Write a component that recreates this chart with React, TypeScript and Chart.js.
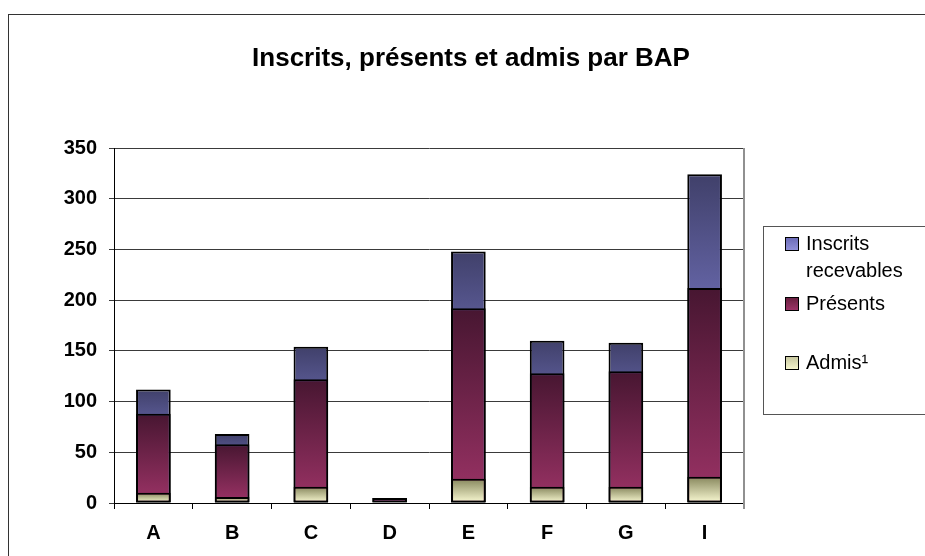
import React, { useEffect, useRef } from "react";
import { Chart, registerables } from "chart.js";

Chart.register(...registerables);

const categories = ["A", "B", "C", "D", "E", "F", "G", "I"];
const inscrits = [112, 68, 154, 5, 248, 160, 158, 324];
const presents = [88, 58, 122, 5, 192, 128, 130, 212];
const admis = [10, 6, 16, 0, 24, 16, 16, 26];
const yTicks = [0, 50, 100, 150, 200, 250, 300, 350];

const FONT = "'Liberation Sans', Arial, sans-serif";

const inscritsStops: [number, string][] = [[0, "#40406a"], [0.35, "#6262a2"], [1, "#9a9aee"]];
const presentsStops: [number, string][] = [[0, "#471631"], [1, "#9c3366"]];
const admisStops: [number, string][] = [[0, "#86865c"], [1, "#fbfbd4"]];

function gradientFill(stops: [number, string][]) {
  return (ctx: any) => {
    const chart = ctx.chart;
    const { chartArea, scales } = chart;
    if (!chartArea || ctx.type !== "data" || !scales.y) return stops[stops.length - 1][1];
    const v = ctx.parsed ? ctx.parsed.y : ctx.raw;
    const top = scales.y.getPixelForValue(v);
    const bottom = scales.y.getPixelForValue(0);
    if (!isFinite(top) || bottom - top < 1) return stops[stops.length - 1][1];
    const g = chart.ctx.createLinearGradient(0, top, 0, bottom);
    stops.forEach(([o, c]) => g.addColorStop(o, c));
    return g;
  };
}

const plotBorder = {
  id: "plotBorder",
  afterDraw(chart: any) {
    const { ctx, chartArea } = chart;
    ctx.save();
    ctx.strokeStyle = "#909090";
    ctx.lineWidth = 2;
    ctx.beginPath();
    ctx.moveTo(chartArea.right, chartArea.top);
    ctx.lineTo(chartArea.right, chartArea.bottom + 6);
    ctx.stroke();
    ctx.restore();
  },
};

export default function App() {
  const ref = useRef<HTMLCanvasElement>(null);
  useEffect(() => {
    if (!ref.current) return;
    const common = {
      grouped: false,
      barPercentage: 0.44,
      categoryPercentage: 1,
      borderColor: "#000",
      borderWidth: 2,
      borderSkipped: false,
    };
    const chart = new Chart(ref.current, {
      type: "bar",
      data: {
        labels: categories,
        datasets: [
          { label: "Inscrits recevables", data: inscrits, order: 3, backgroundColor: gradientFill(inscritsStops), ...common } as any,
          { label: "Présents", data: presents, order: 2, backgroundColor: gradientFill(presentsStops), ...common } as any,
          { label: "Admis¹", data: admis, order: 1, backgroundColor: gradientFill(admisStops), ...common } as any,
        ],
      },
      options: {
        responsive: false,
        animation: false,
        layout: { padding: { left: 54, right: 181, top: 148, bottom: 8 } },
        plugins: { legend: { display: false }, title: { display: false }, tooltip: { enabled: false } },
        scales: {
          x: {
            grid: { offset: true, drawOnChartArea: false, drawTicks: true, tickLength: 6, color: "#000" },
            border: { color: "#000", width: 1 },
            ticks: { color: "#000", font: { family: FONT, size: 20, weight: "bold" }, padding: 12 },
            afterFit: (s: any) => { s.height = 45; },
          },
          y: {
            min: 0,
            max: 350,
            afterBuildTicks: (s: any) => { s.ticks = yTicks.map((v) => ({ value: v })); },
            grid: { color: "#3a3a3a", lineWidth: 1, drawTicks: true, tickLength: 5 },
            border: { color: "#000", width: 1 },
            ticks: { color: "#000", font: { family: FONT, size: 20, weight: "bold" }, padding: 12 },
            afterFit: (s: any) => { s.width = 60; },
          },
        },
      } as any,
      plugins: [plotBorder],
    });
    return () => chart.destroy();
  }, []);

  const text = (content: string, left: number, centerY: number, size: number, bold = false) => (
    <div
      style={{
        position: "absolute",
        left,
        top: centerY - 0.49 * size,
        fontFamily: FONT,
        fontSize: size,
        lineHeight: `${size}px`,
        fontWeight: bold ? "bold" : "normal",
        color: "#000",
        whiteSpace: "nowrap",
      }}
    >
      {content}
    </div>
  );

  const marker = (top: number, bg: string) => (
    <div
      style={{
        position: "absolute",
        left: 785,
        top,
        width: 12,
        height: 12,
        border: "1px solid #000",
        background: bg,
      }}
    />
  );

  return (
    <div style={{ position: "fixed", left: 0, top: 0, width: 925, height: 556, overflow: "hidden", background: "#fff" }}>
      <canvas ref={ref} width={925} height={556} style={{ position: "absolute", left: 0, top: 0, width: 925, height: 556 }} />
      <div style={{ position: "absolute", left: 8, top: 14, width: 1000, height: 1000, border: "1px solid #333" }} />
      <div
        style={{
          position: "absolute",
          left: 0,
          width: 942,
          top: 57 - 0.49 * 26,
          textAlign: "center",
          fontFamily: FONT,
          fontSize: 26,
          lineHeight: "26px",
          fontWeight: "bold",
          color: "#000",
        }}
      >
        Inscrits, présents et admis par BAP
      </div>
      <div style={{ position: "absolute", left: 763, top: 226, width: 400, height: 187, border: "1px solid #555" }} />
      {marker(237, "linear-gradient(#6c6cb8, #9090d8)")}
      {text("Inscrits", 806, 243, 20)}
      {text("recevables", 806, 270, 20)}
      {marker(297, "linear-gradient(#6a2040, #9c3366)")}
      {text("Présents", 806, 303, 20)}
      {marker(356, "linear-gradient(#c8c8a0, #f4f4cc)")}
      {text("Admis¹", 806, 362, 20)}
    </div>
  );
}
